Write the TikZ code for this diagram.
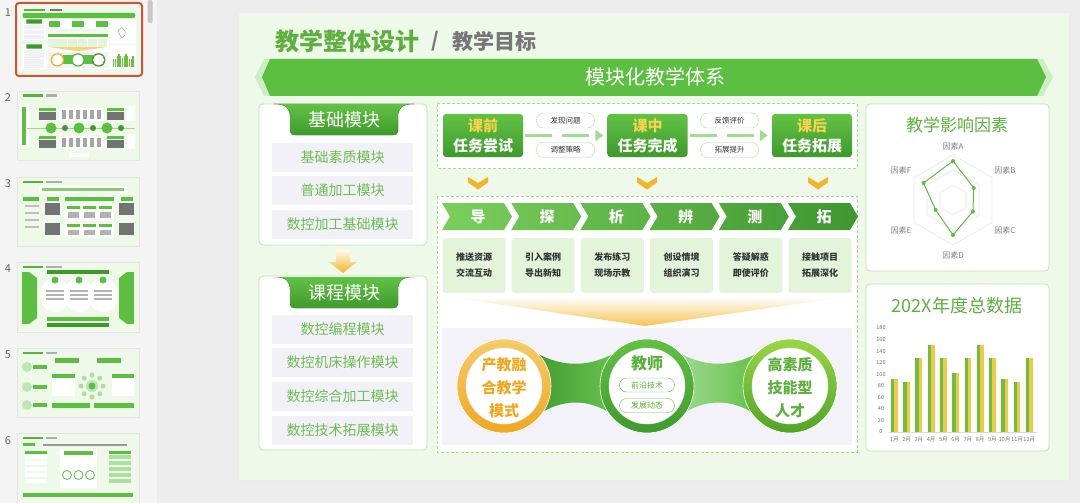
\documentclass[tikz,border=0pt]{standalone}
\usepackage{fontspec}
\setmainfont{Noto Sans CJK SC}
\usetikzlibrary{arrows.meta,calc}
\definecolor{appbg}{HTML}{EDEDED}
\definecolor{panebg}{HTML}{F4F4F4}
\definecolor{slidebg}{HTML}{EEF9E9}
\definecolor{gmain}{HTML}{5CBF42}
\definecolor{gdark}{HTML}{3E9A2B}
\definecolor{tabtop}{HTML}{62C245}
\definecolor{glite}{HTML}{A3DB8F}
\definecolor{gborder}{HTML}{BDE5AE}
\definecolor{gtext}{HTML}{6DBE52}
\definecolor{gtitle}{HTML}{5DB03E}
\definecolor{itembg}{HTML}{F2F1F7}
\definecolor{ybright}{HTML}{F2B52A}
\definecolor{ylite}{HTML}{FDF3D6}
\definecolor{ytxt}{HTML}{F7D34C}
\definecolor{boxg}{HTML}{E3F4DB}
\definecolor{lav}{HTML}{F3F2F8}
\definecolor{txtdark}{HTML}{333333}
\definecolor{gray7}{HTML}{777777}
\definecolor{bargreen}{HTML}{6DBF3E}
\definecolor{baryel}{HTML}{F3C845}
\definecolor{orangeb}{HTML}{C35A30}
\definecolor{bshadow}{HTML}{CDEEC0}
\definecolor{chA}{HTML}{7ACE5C}
\definecolor{chB}{HTML}{3F9530}
\definecolor{orT}{HTML}{F0A820}
\newcommand\fsz[1]{\fontsize{#1}{#1}\selectfont}
\newcommand\modtab[1]{%
  \fill[top color=tabtop, bottom color=gdark] (274,#1) .. controls (286,#1) and (290,#1+4) .. (290,#1+13) -- (290,#1+27) .. controls (290,#1+30) and (292,#1+31) .. (295,#1+31) -- (393,#1+31) .. controls (396,#1+31) and (398,#1+30) .. (398,#1+27) -- (398,#1+13) .. controls (398,#1+4) and (402,#1) .. (414,#1) -- cycle;}
\newcommand\thumbshapes{%
 \fill[slidebg] (238,12) rectangle (1069,480);
 \fill[gtitle] (275,32) rectangle (418,50);
 \fill[gray7] (452,33) rectangle (535,50);
 \fill[gmain] (270,59) -- (1037,59) -- (1046,77) -- (1037,96) -- (270,96) -- (262,77) -- cycle;
 \fill[white] (259,104) rectangle (427,245) (259,276) rectangle (427,450) (866,104) rectangle (1049,271) (866,284) rectangle (1049,451) (437,104) rectangle (857,168) (437,196) rectangle (857,452);
 \fill[gdark] (290,105) rectangle (398,135) (290,278) rectangle (398,307);
 \foreach \yy in {143,176,210,315,348,383,417}{\fill[itembg] (272,\yy) rectangle (413,\yy+28);}
 \foreach \xx in {443,607,772}{\fill[gmain] (\xx,114) rectangle (\xx+80,157);}
 \foreach \k in {0,...,5}{\fill[gmain] (442+69.2*\k,203) rectangle (442+69.2*\k+64,230); \fill[boxg] (442+69.2*\k,238) rectangle (442+69.2*\k+63,293);}
 \fill[ybright!60] (450,297) -- (845,297) -- (645,326) -- cycle;
 \fill[lav] (442,328) rectangle (852,445);
 \fill[gmain] (540,355) rectangle (750,417);
 \fill[ybright] (504,386) circle (47);
 \fill[gmain] (647,386) circle (47);
 \fill[gmain!80!black] (790,386) circle (47);
 \fill[white] (504,386) circle (38) (647,386) circle (38) (790,386) circle (38);
 \foreach \vv [count=\k from 0] in {92,86,128,150,128,102,128,150,128,92,86,128}{\fill[bargreen] (890+12.27*\k,432) rectangle (899+12.27*\k,432-\vv*0.578);}
 \draw[gmain] (953,161) -- (974,189) -- (973,211) -- (953,235) -- (936,210) -- (924,183) -- cycle;
}
\tikzset{
  panel/.style={fill=white, draw=gborder, line width=0.8, rounded corners=4},
  item/.style={fill=itembg, text=gtext, font=\fsz{14}, minimum width=141, minimum height=29, inner sep=0},
  tabtext/.style={text=white, font=\fsz{18}},
  dbox/.style={draw=glite, dash pattern=on 3 off 2, line width=1, fill=white},
  stagebox/.style={top color=tabtop, bottom color=gdark, rounded corners=3, minimum width=80, minimum height=43, inner sep=0, align=center, font=\bfseries\fontsize{15}{20}\selectfont, text=white},
  pill/.style={draw=glite, fill=white, rounded corners=7, minimum width=58, minimum height=15, font=\fsz{7.5}, text=txtdark, inner sep=0},
  flow/.style={draw=glite, line width=3, dash pattern=on 27 off 10, -{Triangle[length=8,width=11]}},
  stepbox/.style={fill=boxg, rounded corners=3, minimum width=63, minimum height=55, inner sep=0, font=\bfseries\fontsize{9}{16}\selectfont, text=txtdark, align=center},
  smallpill/.style={draw=gmain, fill=white, rounded corners=7, minimum width=55, minimum height=14, font=\fsz{8}, text=gtitle, inner sep=0},
  axlab/.style={font=\fsz{5.5}, text=black!55, inner sep=0},
  radlab/.style={font=\fsz{8}, text=black!50, inner sep=0},
  thumb/.style={fill=slidebg, draw=black!10}
}
\begin{document}
\begin{tikzpicture}[x=1pt,y=-1pt]
\useasboundingbox (0,0) rectangle (1080,503);
\fill[appbg] (0,0) rectangle (1080,503);
\fill[panebg] (0,0) rectangle (157,503);
\fill[black!22, rounded corners=2] (147.5,0) rectangle (152.5,23);
% ---------- thumbnails ----------
\foreach \n/\yy in {1/13,2/98,3/184,4/269,5/355,6/441}{\node[font=\fsz{11}, text=black!60] (num\n) at (8,\yy) {\n};}
\draw[orangeb, line width=2, rounded corners=3] (16,3) rectangle (142,76);
\begin{scope}[shift={(19,6)}, scale=0.1442, shift={(-238,-12)}]
\thumbshapes
\end{scope}
% thumb 2
\begin{scope}[shift={(17,91)}]
\fill[thumb] (0,0) rectangle (122,69);
\fill[gtitle] (6,3.5) rectangle (26,6); \fill[gray7!60] (29,3.5) rectangle (40,6);
\fill[white] (3,14) rectangle (12,56); \fill[gmain] (5,16) rectangle (9,54);
\foreach \yy in {17,45}{
  \fill[gmain] (22,\yy) rectangle (39,\yy+3); \fill[black!55] (22,\yy+4) rectangle (39,\yy+12);
  \fill[gmain] (90,\yy) rectangle (107,\yy+3); \fill[black!55] (90,\yy+4) rectangle (107,\yy+12);
  \fill[white] (42,\yy) rectangle (87,\yy+13);
  \foreach \xx in {45,52,59,66,73,80}{\fill[black!35] (\xx,\yy+2) rectangle (\xx+4,\yy+11);}
  \fill[white] (110,\yy-2) rectangle (118,\yy+13);}
\draw[gmain!60, line width=1] (10,37) -- (118,37);
\foreach \xx in {34,62,90}{\fill[gmain] (\xx,37) circle (5.5);}
\foreach \xx in {48,76,104}{\fill[gdark] (\xx,37) circle (3);}
\fill[white] (52,62) rectangle (72,66);
\end{scope}
% thumb 3
\begin{scope}[shift={(17,177)}]
\fill[thumb] (0,0) rectangle (122,69);
\fill[gtitle] (6,3.5) rectangle (26,6); \fill[gray7!60] (29,3.5) rectangle (45,6);
\fill[white] (22,9) rectangle (110,16); \fill[gtitle!70] (25,11) rectangle (107,14);
\fill[gmain] (6,20) rectangle (22,24);
\foreach \yy in {28,35,42,49}{\fill[black!25] (8,\yy) rectangle (22,\yy+2);}
\fill[black!55] (28,26) rectangle (43,38); \fill[black!55] (28,46) rectangle (43,58);
\fill[black!55] (102,26) rectangle (117,38); \fill[black!55] (102,46) rectangle (117,58);
\fill[gmain] (30,20) rectangle (42,24); \fill[gmain] (104,20) rectangle (116,24);
\fill[gmain] (48,20) rectangle (97,24);
\fill[white] (48,28) rectangle (97,44); \fill[white] (48,46) rectangle (97,60);
\foreach \xx in {50,66,82}{\fill[gmain] (\xx,29) rectangle (\xx+13,32); \fill[gmain] (\xx,47) rectangle (\xx+13,50);
  \fill[black!30] (\xx+1,35) rectangle (\xx+12,41); \fill[black!30] (\xx+1,53) rectangle (\xx+12,58);}
\end{scope}
% thumb 4
\begin{scope}[shift={(17,262)}]
\fill[thumb] (0,0) rectangle (122,70);
\fill[gtitle] (6,3.5) rectangle (26,6); \fill[gray7!60] (29,3.5) rectangle (45,6);
\fill[gmain] (5,10) rectangle (12,62); \fill[gmain] (12,10) -- (20,16) -- (20,56) -- (12,62) -- cycle;
\fill[gmain] (110,10) rectangle (117,62); \fill[gmain] (110,10) -- (102,16) -- (102,56) -- (110,62) -- cycle;
\fill[gdark] (30,8) rectangle (92,12);
\foreach \xx in {38,62,86}{\fill[white] (\xx,33) ellipse (15 and 17); \fill[gmain] (\xx,18) circle (3.5);
  \foreach \yy in {28,32,36}{\fill[black!30] (\xx-9,\yy) rectangle (\xx+9,\yy+1.5);}}
\fill[gmain] (30,55) rectangle (92,59); \fill[gdark] (30,61) rectangle (92,65);
\end{scope}
% thumb 5
\begin{scope}[shift={(17,348)}]
\fill[thumb] (0,0) rectangle (122,69);
\fill[gtitle] (6,3.5) rectangle (26,6); \fill[gray7!60] (29,3.5) rectangle (40,6);
\foreach \yy in {19,39,57}{\fill[gmain!40] (10,\yy) circle (5); \fill[gmain] (16,\yy-2) rectangle (30,\yy+2);}
\fill[gmain] (38,10) rectangle (62,15); \fill[gmain] (80,10) rectangle (104,15);
\fill[white] (35,26) rectangle (58,48); \fill[gmain] (35,26) rectangle (58,30);
\fill[white] (95,26) rectangle (117,48); \fill[gmain] (95,26) rectangle (117,30);
\fill[gmain!40] (75,38) circle (6); \fill[gmain] (75,38) circle (3.5);
\foreach \a in {0,45,...,315}{\fill[gmain!50] ([shift={(\a:11)}]75,38) circle (2.5);}
\fill[gmain] (35,55) rectangle (73,60); \fill[gmain] (77,55) rectangle (117,60);
\end{scope}
% thumb 6
\begin{scope}[shift={(17,433)}]
\fill[thumb] (0,0) rectangle (122,70);
\fill[gtitle] (6,3.5) rectangle (26,6); \fill[gray7!60] (29,3.5) rectangle (40,6);
\fill[gmain] (6,10) rectangle (18,13); \fill[black!40] (26,10.5) rectangle (110,12.5);
\fill[white] (43,16) rectangle (80,55); \fill[gmain] (47,18) rectangle (76,22);
\foreach \xx in {50,61.5,73}{\draw[gmain, line width=0.8, fill=white] (\xx,42) circle (4.5);}
\foreach \yy in {22,28,34,40,46}{\fill[white] (8,\yy) rectangle (30,\yy+4); \fill[gmain!50] (92,\yy) rectangle (114,\yy+4);}
\fill[gmain] (8,18) rectangle (30,21); \fill[gmain] (92,18) rectangle (114,21);
\fill[gmain] (6,60) rectangle (116,64);
\end{scope}
% ---------- main slide ----------
\fill[slidebg] (238,12) rectangle (1069,480);
\draw[black!8] (238,12) rectangle (1069,480);
\node[anchor=west, font=\bfseries\fsz{24}, text=gtitle] (ht1) at (272,41) {教学整体设计};
\node[font=\bfseries\fsz{20}, text=gray7] (hsl) at (435,41) {/};
\node[anchor=west, font=\bfseries\fsz{21}, text=gray7] (ht2) at (449,41) {教学目标};
% banner
\fill[bshadow] (264,59) -- (1043,59) -- (1053,77) -- (1043,96) -- (264,96) -- (255,77) -- cycle;
\fill[gmain] (270,59) -- (1037,59) -- (1046,77) -- (1037,96) -- (270,96) -- (262,77) -- cycle;
\node[font=\fsz{20}, text=white] (banner) at (655,77) {模块化教学体系};
% left panels
\draw[panel] (259,104) rectangle (427,245);
\modtab{104}
\node[tabtext] (tab1) at (344,120) {基础模块};
\node[item] (i1) at (342.5,157.5) {基础素质模块};
\node[item] (i2) at (342.5,190.5) {普通加工模块};
\node[item] (i3) at (342.5,224) {数控加工基础模块};
\shade[top color=ylite!40, bottom color=ybright] (336,250) -- (350,250) -- (350,262) -- (357,262) -- (343,273) -- (329,262) -- (336,262) -- cycle;
\draw[panel] (259,276) rectangle (427,450);
\modtab{277}
\node[tabtext] (tab2) at (344,293) {课程模块};
\node[item] (j1) at (342.5,329) {数控编程模块};
\node[item] (j2) at (342.5,362) {数控机床操作模块};
\node[item] (j3) at (342.5,396.5) {数控综合加工模块};
\node[item] (j4) at (342.5,430.5) {数控技术拓展模块};
% middle top
\draw[dbox] (437,104) rectangle (857,168);
\node[stagebox] (s1) at (483,135.5) {\textcolor{ytxt}{课前}\\任务尝试};
\node[stagebox] (s2) at (647.5,135.5) {\textcolor{ytxt}{课中}\\任务完成};
\node[stagebox] (s3) at (812,135.5) {\textcolor{ytxt}{课后}\\任务拓展};
\node[pill] (p1) at (565.5,120.5) {发现问题};
\node[pill] (p2) at (565.5,150) {调整策略};
\node[pill] (p3) at (729.5,120.5) {反馈评价};
\node[pill] (p4) at (729.5,150) {拓展提升};
\draw[flow] ([xshift=2]s1.east) -- ([xshift=-4]s2.west);
\draw[flow] ([xshift=2]s2.east) -- ([xshift=-4]s3.west);
\foreach \xx in {478,647,818}{\fill[ybright] (\xx-10,177) -- (\xx,183) -- (\xx+10,177) -- (\xx+10,182.5) -- (\xx,189.5) -- (\xx-10,182.5) -- cycle;}
% middle big box
\draw[dbox] (437,196) rectangle (857,452);
\foreach \t [count=\k from 0] in {导,探,析,辨,测,拓}{
  \pgfmathsetmacro\xa{442+69.2*\k}
  \pgfmathtruncatemacro\pp{100-17*\k}
  \pgfmathtruncatemacro\qq{86-17*\k}
  \path[left color=chA!\pp!chB, right color=chA!\qq!chB] (\xa,203) -- ++(62,0) -- ++(8,13.5) -- ++(-8,13.5) -- ++(-62,0) -- ++(8,-13.5) -- cycle;
  \node[font=\bfseries\fsz{15}, text=white] (c\k) at (\xa+36,216.5) {\t};
}
\foreach \ta/\tb [count=\k from 0] in {推送资源/交流互动,引入案例/导出新知,发布练习/现场示教,创设情境/组织演习,答疑解惑/即使评价,接触项目/拓展深化}{
  \node[stepbox] (b\k) at (474+69.2*\k,265.5) {\ta\\\tb};
}
\shade[top color=white, bottom color=ybright!80] (450,297) -- (845,297) -- (645,326) -- cycle;
\fill[lav] (442,328) rectangle (852,445);
% connecting bands (ends hidden under the circles)
\shade[left color=gdark, right color=gmain!90] (528,348) .. controls (560,369) and (591,369) .. (623,348) -- (623,422) .. controls (591,396) and (560,396) .. (528,422) -- cycle;
\shade[left color=gmain!55, right color=gmain] (671,348) .. controls (703,369) and (734,369) .. (766,348) -- (766,422) .. controls (734,396) and (703,396) .. (671,422) -- cycle;
% circles
\node[circle, minimum size=94, inner sep=0, top color=ybright!70, bottom color=orT, draw=white, line width=0.6] (cl) at (504,386) {};
\node[circle, minimum size=76, inner sep=0, fill=white, draw=black!8] (cli) at (cl) {};
\node[font=\bfseries\fontsize{15}{23}\selectfont, text=orT, align=center] (clt) at (504,388) {产教融\\合教学\\模式};
\node[circle, minimum size=94, inner sep=0, top color=tabtop, bottom color=gdark, draw=white, line width=0.6] (cm) at (647,386) {};
\node[circle, minimum size=76, inner sep=0, fill=white, draw=black!8] (cmi) at (cm) {};
\node[font=\bfseries\fsz{16}, text=gtitle] (cmt) at (647,363) {教师};
\node[smallpill] (q1) at (647,385) {前沿技术};
\node[smallpill] (q2) at (647,405.5) {发展动态};
\node[circle, minimum size=94, inner sep=0, top color=gmain!70!yellow!90!white, bottom color=gdark!90!yellow, draw=white, line width=0.6] (cr) at (790,386) {};
\node[circle, minimum size=76, inner sep=0, fill=white, draw=black!8] (cri) at (cr) {};
\node[font=\bfseries\fontsize{15}{23}\selectfont, text=gtitle, align=center] (crt) at (790,388) {高素质\\技能型\\人才};
% right panel 1: radar
\draw[panel] (866,104) rectangle (1049,271);
\node[font=\fsz{17}, text=gtitle] (rt1) at (957,125) {教学影响因素};
\coordinate (rc) at (953,200);
\foreach \r in {15,30,45}{\draw[black!10, line width=0.6] ([shift={(-90:\r)}]rc) -- ([shift={(-30:\r)}]rc) -- ([shift={(30:\r)}]rc) -- ([shift={(90:\r)}]rc) -- ([shift={(150:\r)}]rc) -- ([shift={(210:\r)}]rc) -- cycle;}
\draw[gmain, line width=1] ([shift={(-90:39)}]rc) coordinate (ra) -- ([shift={(-30:24)}]rc) coordinate (rb) -- ([shift={(30:23)}]rc) coordinate (rcc) -- ([shift={(90:35)}]rc) coordinate (rd) -- ([shift={(150:20)}]rc) coordinate (re) -- ([shift={(210:34)}]rc) coordinate (rf) -- cycle;
\foreach \p in {ra,rb,rcc,rd,re,rf}{\fill[gmain] (\p) circle (2);}
\node[radlab] (la) at ([shift={(-90:54)}]rc) {因素A};
\node[radlab] (lb) at ([shift={(-30:60)}]rc) {因素B};
\node[radlab] (lc) at ([shift={(30:60)}]rc) {因素C};
\node[radlab] (ld) at ([shift={(90:55)}]rc) {因素D};
\node[radlab] (le) at ([shift={(150:60)}]rc) {因素E};
\node[radlab] (lf) at ([shift={(210:60)}]rc) {因素F};
% right panel 2: bars
\draw[panel] (866,284) rectangle (1049,451);
\node[font=\fsz{18}, text=gtitle] (rt2) at (957,306) {202X年度总数据};
\draw[black!15, line width=0.6] (888,432) -- (1037,432);
\foreach \v in {0,20,...,180}{\node[axlab] (yl\v) at (881,432-\v*0.5778) {\v};}
\foreach \v [count=\k from 0] in {92,86,128,150,128,102,128,150,128,92,86,128}{
  \pgfmathsetmacro\cx{894.3+12.27*\k}
  \pgfmathsetmacro\tp{432-\v*0.5778}
  \fill[bargreen] (\cx-3.4,432) rectangle (\cx,\tp);
  \fill[baryel] (\cx,432) rectangle (\cx+3.4,\tp);
  \pgfmathtruncatemacro\m{\k+1}
  \node[axlab] (ml\k) at (\cx,440) {\m 月};
}
\end{tikzpicture}
\end{document}
